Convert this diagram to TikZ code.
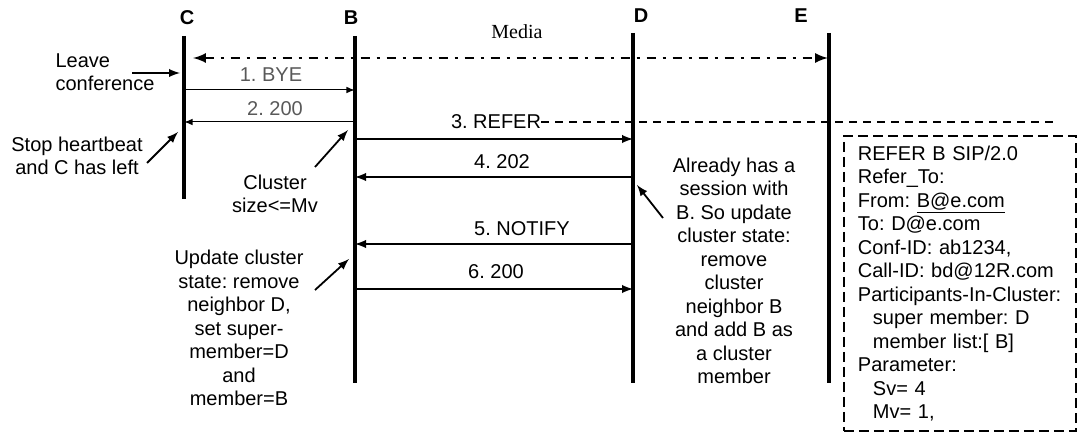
\documentclass[tikz,border=0pt]{standalone}
\usepackage{fontspec}
\setmainfont{Liberation Sans}
\newfontfamily\mediafont{Liberation Serif}
\usetikzlibrary{arrows}
\tikzset{>=latex}
\frenchspacing
\tikzstyle{life} = [-, line width=1.6pt]
\tikzstyle{msg} = [-latex, line width=0.9pt]
\tikzstyle{thinmsg} = [-latex, line width=0.5pt]
\tikzstyle{pointer} = [-latex, line width=0.9pt]
\tikzstyle{media} = [latex-latex, line width=1.2pt, dash pattern=on 4.5pt off 3.5pt on 1.5pt off 3.5pt]
\tikzstyle{refline} = [-, line width=0.7pt, dash pattern=on 4pt off 3pt]
\tikzstyle{refbox} = [draw, line width=0.9pt, dash pattern=on 5pt off 2.5pt, align=left, text width=102pt, minimum height=147.5pt, inner xsep=7pt, inner ysep=3pt]
\tikzstyle{head} = [font=\bfseries\fontsize{10}{12}\selectfont]
\tikzstyle{note} = [align=center]
\tikzstyle{faint} = [text=black!65]

\begin{document}
\begin{tikzpicture}[x=0.5pt, y=-0.5pt, font=\fontsize{10}{11.75}\selectfont, inner sep=0pt]
\useasboundingbox (0,0) rectangle (1079,432);

\node [head] (C) at (187,18) {C};
\node [head] (B) at (351,18) {B};
\node [head] (D) at (641,16) {D};
\node [head] (E) at (801,16) {E};

\coordinate (Ct) at (184,36);
\coordinate (Cb) at (184,199);
\coordinate (Bt) at (355,36);
\coordinate (Bb) at (355,383);
\coordinate (Dt) at (633,33);
\coordinate (Db) at (633,383);
\coordinate (Et) at (829,33);
\coordinate (Eb) at (829,383);

\draw [life] (Ct) -- (Cb);
\draw [life] (Bt) -- (Bb);
\draw [life] (Dt) -- (Db);
\draw [life] (Et) -- (Eb);

\node [font=\mediafont\fontsize{10}{12}\selectfont] (media) at (517,32) {Media};
\coordinate (mediaL) at (193,58);
\coordinate (mediaR) at (828,58);
\draw [media] (mediaL) -- (mediaR);

\coordinate (r1) at (0,90);
\coordinate (r2) at (0,122);
\coordinate (r3) at (0,139);
\coordinate (r4) at (0,177);
\coordinate (r5) at (0,244);
\coordinate (r6) at (0,289);

\node [faint] (bye) at (271,75) {1. BYE};
\node [faint] (ok1) at (275,109) {2. 200};
\node (refer) at (496,122) {3. REFER};
\node (accepted) at (502,162) {4. 202};
\node (notify) at (522,229) {5. NOTIFY};
\node (ok2) at (496,272) {6. 200};

\draw [thinmsg] (Ct |- r1) -- (Bt |- r1);
\draw [thinmsg] (Bt |- r2) -- (Ct |- r2);
\draw [msg] (Bt |- r3) -- (Dt |- r3);
\draw [msg] (Dt |- r4) -- (Bt |- r4);
\draw [msg] (Dt |- r5) -- (Bt |- r5);
\draw [msg] (Bt |- r6) -- (Dt |- r6);

\coordinate (referend) at (1057,122);
\draw [refline] (refer.east) -- (refer.east -| referend);

\node [note, align=left] (leave) at (105,72) {Leave\\conference};
\coordinate (leave1) at (132,73);
\coordinate (leave2) at (180,73);
\draw [pointer] (leave1) -- (leave2);

\node [note] (stop) at (77,156) {Stop heartbeat\\and C has left};
\coordinate (stop1) at (147,163);
\coordinate (stop2) at (178,132);
\draw [pointer] (stop1) -- (stop2);

\node [note] (size) at (275,194) {Cluster\\size<=Mv};
\coordinate (size1) at (315,167);
\coordinate (size2) at (348,130);
\draw [pointer] (size1) -- (size2);

\node [note] (update) at (239,328) {Update cluster\\state: remove\\neighbor D,\\set super-\\member=D\\and\\member=B};
\coordinate (update1) at (315,290);
\coordinate (update2) at (349,259);
\draw [pointer] (update1) -- (update2);

\node [note] (already) at (734,271) {Already has a\\session with\\B. So update\\cluster state:\\remove\\cluster\\neighbor B\\and add B as\\a cluster\\member};
\coordinate (already1) at (663,218);
\coordinate (already2) at (637,185);
\draw [pointer] (already1) -- (already2);

\node [refbox, anchor=north west] (refermsg) at (843,135) {REFER B SIP/2.0\\Refer\_To:\\From: \underline{B@e.com}\\To: D@e.com\\Conf-ID: ab1234,\\Call-ID: bd@12R.com\\Participants-In-Cluster:\\\hspace*{7.5pt}super member: D\\\hspace*{7.5pt}member list:[ B]\\Parameter:\\\hspace*{7.5pt}Sv= 4\\\hspace*{7.5pt}Mv= 1,};
\end{tikzpicture}
\end{document}
